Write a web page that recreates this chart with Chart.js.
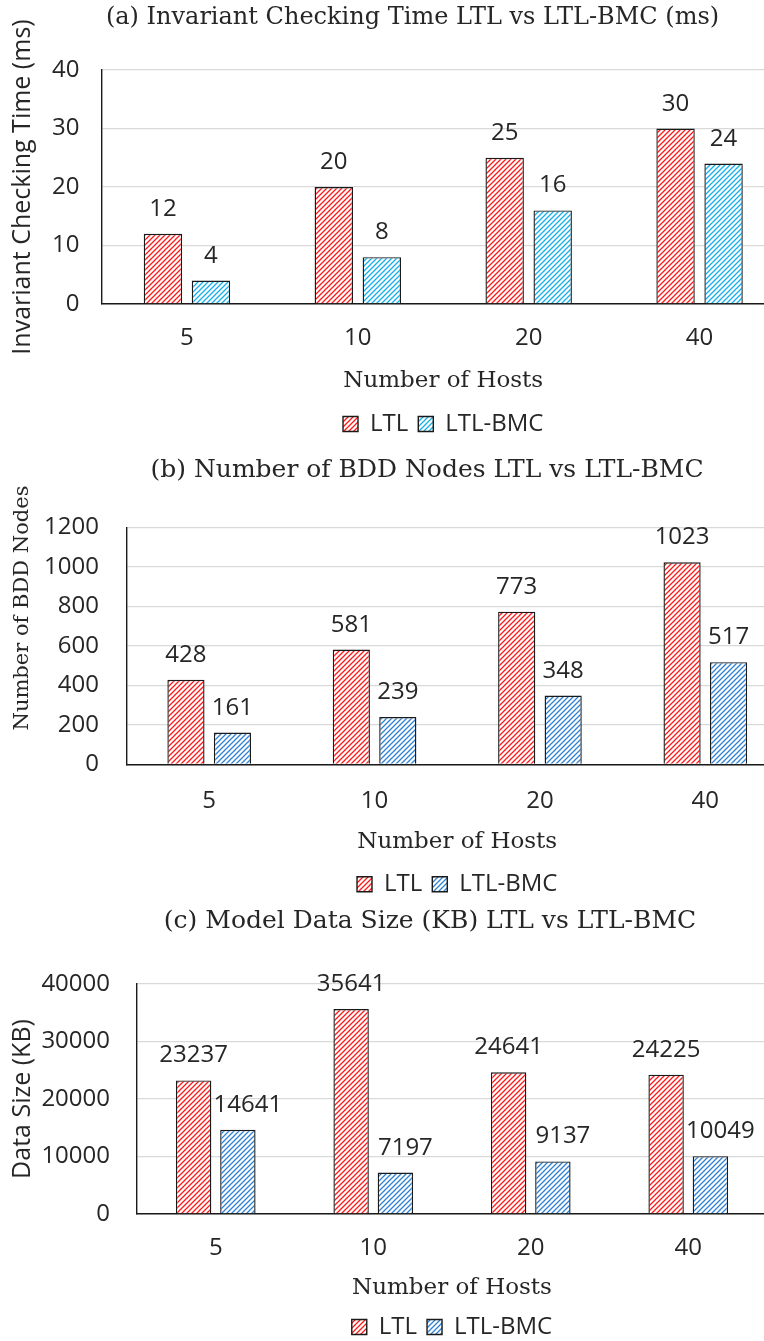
<!DOCTYPE html>
<html><head><meta charset="utf-8">
<script src="https://cdn.jsdelivr.net/npm/chart.js@4.4.1/dist/chart.umd.min.js"></script>
<style>
html,body{margin:0;padding:0;background:#fff;overflow:hidden;width:764px;height:1341px;}
canvas{position:absolute;left:0;}
</style></head><body>
<canvas id="cA" width="825" height="450" style="top:0px"></canvas>
<canvas id="cB" width="854" height="460" style="top:450px"></canvas>
<canvas id="cC" width="860" height="452" style="top:900px"></canvas>
<script>
// ---- data ----
const hostCategories = ['5', '10', '20', '40'];
const seriesNames = ['LTL', 'LTL-BMC'];
const timeLTL = [12, 20, 25, 30];
const timeBMC = [4, 8, 16, 24];
const timeTicks = [0, 10, 20, 30, 40];
const bddLTL = [428, 581, 773, 1023];
const bddBMC = [161, 239, 348, 517];
const bddTicks = [0, 200, 400, 600, 800, 1000, 1200];
const sizeLTL = [23237, 35641, 24641, 24225];
const sizeBMC = [14641, 7197, 9137, 10049];
const sizeTicks = [0, 10000, 20000, 30000, 40000];

// ---- styles ----
const SANS = '"Open Sans", "Liberation Sans", sans-serif';
const SERIF = '"DejaVu Serif", "Liberation Serif", serif';
const TXT = '#262626';
const RED = '#ff1a1a';
const CYAN = '#14aee8';
const BLUE = '#2f82d2';

function hatch(color) {
  const n = 5;
  const c = document.createElement('canvas');
  c.width = n; c.height = n;
  const g = c.getContext('2d');
  g.fillStyle = '#ffffff'; g.fillRect(0, 0, n, n);
  g.strokeStyle = color; g.lineWidth = 1.3;
  g.beginPath();
  g.moveTo(0, n); g.lineTo(n, 0);
  g.moveTo(-1, 1); g.lineTo(1, -1);
  g.moveTo(n - 1, n + 1); g.lineTo(n + 1, n - 1);
  g.stroke();
  return g.createPattern(c, 'repeat');
}

const valueLabels = {
  id: 'valueLabels',
  afterDatasetsDraw(chart, args, o) {
    const ctx = chart.ctx;
    ctx.save();
    ctx.font = '24px ' + SANS;
    ctx.fillStyle = TXT;
    ctx.textAlign = 'center';
    ctx.textBaseline = 'alphabetic';
    chart.data.datasets.forEach((ds, i) => {
      const dx = (o.dx && o.dx[i]) || 0;
      chart.getDatasetMeta(i).data.forEach((el, j) => {
        ctx.fillText(String(ds.data[j]), el.x + dx, el.y - 18);
      });
    });
    ctx.restore();
  }
};

// free-positioned texts: side (rotated) axis title and the chart heading
const freeText = {
  id: 'freeText',
  afterDraw(chart, args, o) {
    const ctx = chart.ctx;
    o.items.forEach(t => {
      ctx.save();
      ctx.translate(t.x, t.y);
      if (t.rotate) ctx.rotate(-Math.PI / 2);
      ctx.font = t.font;
      ctx.fillStyle = TXT;
      ctx.textAlign = 'center';
      ctx.textBaseline = 'middle';
      ctx.fillText(t.text, 0, 0);
      ctx.restore();
    });
  }
};

function build(id, o) {
  const common = { borderColor: '#1a1a1a', borderWidth: 1.4, categoryPercentage: 0.562, barPercentage: 0.8 };
  return new Chart(document.getElementById(id), {
    type: 'bar',
    data: {
      labels: hostCategories,
      datasets: [
        Object.assign({ label: seriesNames[0], data: o.ltl, backgroundColor: hatch(RED) }, common),
        Object.assign({ label: seriesNames[1], data: o.bmc, backgroundColor: hatch(o.blue) }, common)
      ]
    },
    options: {
      responsive: false,
      animation: false,
      devicePixelRatio: 1,
      layout: { padding: { left: 0, right: o.padR, top: o.padT, bottom: o.padB } },
      plugins: {
        title: { display: false },
        legend: {
          position: 'bottom', fullSize: false,
          labels: { boxWidth: 15, boxHeight: 15, padding: 10, color: TXT, font: { family: SANS, size: 24 } }
        },
        tooltip: { enabled: false },
        valueLabels: { dx: o.labelDx },
        freeText: {
          items: [
            { text: o.title, x: o.titleX, y: o.titleY, font: o.tSize + 'px ' + SERIF },
            { text: o.yTitle, x: 23, y: o.yTitleY, font: o.yTitleFont, rotate: true }
          ]
        }
      },
      scales: {
        x: {
          afterFit: s => { s.height = o.xH; },
          grid: { display: false, drawTicks: false },
          border: { display: true, color: '#1a1a1a', width: 1.4 },
          ticks: { color: TXT, font: { family: SANS, size: 24 }, padding: o.xPad },
          title: {
            display: true, text: 'Number of Hosts', color: TXT,
            font: { family: SERIF, size: 23 },
            padding: { top: 0, bottom: o.xtB }
          }
        },
        y: {
          min: o.ticks[0], max: o.ticks[o.ticks.length - 1],
          afterBuildTicks: s => { s.ticks = o.ticks.map(v => ({ value: v })); },
          afterFit: s => { s.width = o.yW; },
          grid: { color: '#d9d9d9', lineWidth: 1.3, drawTicks: false },
          border: { display: true, color: '#1a1a1a', width: 1.4 },
          ticks: { color: TXT, font: { family: SANS, size: 24 }, padding: o.yPad, callback: v => String(v) }
        }
      }
    },
    plugins: [valueLabels, freeText]
  });
}

build('cA', {
  title: '(a) Invariant Checking Time LTL vs LTL-BMC (ms)', tSize: 24, titleX: 412.5, titleY: 18,
  ltl: timeLTL, bmc: timeBMC, ticks: timeTicks, blue: CYAN, labelDx: [0, 0],
  padT: 70, padR: 40, padB: 4, xH: 98, xPad: 19.6, xtB: 7.2,
  yW: 101.5, yPad: 22,
  yTitle: 'Invariant Checking Time (ms)', yTitleY: 187, yTitleFont: '25px ' + SANS
});
build('cB', {
  title: '(b) Number of BDD Nodes LTL vs LTL-BMC', tSize: 25, titleX: 427, titleY: 20,
  ltl: bddLTL, bmc: bddBMC, ticks: bddTicks, blue: BLUE, labelDx: [0, 0],
  padT: 77.3, padR: 66, padB: 3.7, xH: 98, xPad: 22, xtB: 6.8,
  yW: 126.5, yPad: 27.5,
  yTitle: 'Number of BDD Nodes', yTitleY: 158, yTitleFont: '21px ' + SERIF
});
build('cC', {
  title: '(c) Model Data Size (KB) LTL vs LTL-BMC', tSize: 25, titleX: 430, titleY: 21.7,
  ltl: sizeLTL, bmc: sizeBMC, ticks: sizeTicks, blue: BLUE, labelDx: [0, 10],
  padT: 84, padR: 93, padB: 3, xH: 91, xPad: 19.6, xtB: 3.2,
  yW: 137, yPad: 27,
  yTitle: 'Data Size (KB)', yTitleY: 199, yTitleFont: '25px ' + SANS
});
</script>
</body></html>
